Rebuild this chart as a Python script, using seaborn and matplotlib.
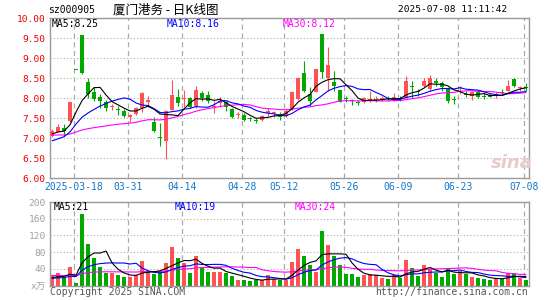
import numpy as np
import pandas as pd
import matplotlib
matplotlib.use("Agg")
import matplotlib.pyplot as plt
import seaborn as sns

# daily k-line data, 2025-03-12 .. 2025-07-08 (80 trading days)
open_ = [7.06, 7.16, 7.25, 7.42, 8.70, 9.57, 8.41, 8.14, 8.02, 7.91,
         7.77, 7.72, 7.68, 7.52, 7.60, 7.75, 7.89, 7.39, 7.02, 6.92,
         7.70, 8.03, 7.97, 8.00, 7.81, 8.12, 8.08, 7.77, 7.88, 7.91,
         7.72, 7.57, 7.58, 7.50, 7.44, 7.45, 7.63, 7.62, 7.60, 7.56,
         7.72, 7.97, 8.62, 8.10, 8.14, 9.59, 8.50, 8.41, 8.21, 7.99,
         7.93, 7.91, 7.89, 7.95, 7.94, 7.97, 8.00, 8.00, 8.00, 8.00,
         8.31, 8.17, 8.31, 8.22, 8.43, 8.38, 8.22, 7.97, 8.24, 8.10,
         8.06, 8.14, 8.06, 8.08, 8.07, 8.15, 8.18, 8.47, 8.24, 8.28]
high = [7.22, 7.35, 7.35, 7.91, 8.70, 9.57, 8.50, 8.27, 8.10, 7.95,
        7.85, 7.81, 7.72, 7.60, 7.78, 8.14, 8.06, 7.53, 7.37, 7.70,
        8.45, 8.22, 8.20, 8.02, 8.31, 8.18, 8.17, 7.93, 8.02, 7.93,
        7.75, 7.66, 7.62, 7.53, 7.49, 7.58, 7.75, 7.68, 7.64, 7.72,
        8.17, 8.53, 8.93, 8.28, 8.72, 9.59, 9.28, 8.67, 8.21, 8.06,
        7.97, 7.95, 8.02, 8.18, 8.06, 8.06, 8.06, 8.12, 8.06, 8.56,
        8.43, 8.23, 8.50, 8.58, 8.50, 8.42, 8.27, 8.06, 8.31, 8.17,
        8.17, 8.18, 8.14, 8.12, 8.14, 8.22, 8.45, 8.50, 8.31, 8.38]
low = [7.02, 7.14, 7.06, 7.40, 8.70, 8.60, 8.00, 7.93, 7.75, 7.67,
       7.70, 7.57, 7.52, 7.39, 7.58, 7.64, 7.77, 7.14, 6.81, 6.47,
       7.70, 7.81, 7.78, 7.75, 7.75, 7.93, 7.87, 7.62, 7.78, 7.68,
       7.50, 7.50, 7.42, 7.42, 7.37, 7.43, 7.56, 7.53, 7.46, 7.52,
       7.70, 7.95, 8.14, 7.81, 8.14, 8.50, 8.18, 8.18, 7.91, 7.89,
       7.83, 7.83, 7.87, 7.89, 7.89, 7.92, 7.92, 7.93, 7.92, 8.00,
       8.00, 8.06, 8.27, 8.18, 8.31, 8.18, 7.87, 7.85, 8.10, 8.02,
       7.95, 8.00, 7.97, 8.02, 8.00, 8.07, 8.17, 8.28, 8.17, 8.17]
close = [7.18, 7.28, 7.18, 7.91, 8.70, 8.62, 8.10, 7.97, 7.93, 7.75,
         7.79, 7.70, 7.56, 7.58, 7.75, 8.12, 7.96, 7.18, 6.99, 7.68,
         8.08, 7.87, 8.00, 7.78, 8.20, 8.00, 7.92, 7.80, 7.92, 7.78,
         7.52, 7.60, 7.46, 7.47, 7.42, 7.56, 7.67, 7.64, 7.52, 7.68,
         8.14, 8.50, 8.18, 7.93, 8.72, 8.64, 8.82, 8.31, 7.91, 7.97,
         7.92, 7.88, 7.99, 7.97, 7.97, 7.99, 7.97, 8.02, 7.97, 8.43,
         8.27, 8.14, 8.43, 8.50, 8.38, 8.27, 7.93, 7.94, 8.28, 8.07,
         8.14, 8.03, 8.03, 8.03, 8.10, 8.13, 8.31, 8.31, 8.28, 8.25]
# volume, 万手
volume = [24, 29, 20, 45, 7, 172, 100, 65, 45, 30,
          30, 24, 21, 21, 25, 58, 34, 27, 32, 53,
          92, 67, 55, 30, 71, 42, 32, 32, 32, 30,
          22, 13, 13, 11, 14, 13, 24, 15, 13, 13,
          57, 87, 71, 48, 32, 131, 97, 71, 48, 27,
          27, 21, 24, 28, 24, 19, 15, 24, 19, 62,
          42, 22, 50, 40, 30, 21, 42, 27, 35, 27,
          20, 18, 15, 14, 18, 16, 29, 30, 18, 12]
# closes / volumes of the 29 days before the window (only feed the moving averages)
prior_close = [7.20, 7.15, 7.22, 7.18, 7.10, 7.12, 7.18, 7.25, 7.16, 7.10,
               7.08, 7.15, 7.20, 7.12, 7.05, 7.10, 7.18, 7.15, 7.08, 7.10,
               6.78, 6.65, 6.70, 6.72, 6.95, 7.02, 7.08, 7.10, 7.12]
prior_vol = [30, 26, 28, 35, 24, 22, 30, 27, 25, 32,
             28, 24, 26, 30, 29, 25, 27, 31, 26, 25,
             16, 14, 13, 15, 17, 18, 17, 19, 17]

date_idx = [4, 13, 22, 32, 39, 49, 58, 68, 79]
date_lbl = ["2025-03-18", "03-31", "04-14", "04-28", "05-12", "05-26", "06-09", "06-23", "07-08"]

RED = "#ff5252"
GREEN = "#00a800"
GRID = "#aaaaaa"
FRAME = "#999999"

n = len(close)
x = np.arange(n)
df = pd.DataFrame({"x": x, "open": open_, "high": high, "low": low, "close": close, "vol": volume})
df["dir"] = np.where(df.close > df.open, "up", "down")
cols = np.where(df.close > df.open, RED, GREEN)

full_c = pd.Series(prior_close + close)
full_v = pd.Series(prior_vol + volume)
k = len(prior_close)
for m in (5, 10, 30):
    df[f"ma{m}"] = full_c.rolling(m).mean().values[k:]
    df[f"vma{m}"] = full_v.rolling(m).mean().values[k:]

sns.set_style("white")
plt.rcParams["font.family"] = ["DejaVu Sans Mono", "Noto Sans CJK SC"]

W, H = 545, 300
fig = plt.figure(figsize=(W / 100, H / 100), dpi=100)


def box(l, t, r, b):
    return [l / W, 1 - b / H, (r - l) / W, (b - t) / H]


def ptext(px, py, s, **kw):
    fig.text(px / W, 1 - py / H, s, va="center", **kw)


ax = fig.add_axes(box(50, 18, 529, 178))
axv = fig.add_axes(box(50, 202, 529, 285.5))
xlim = (-0.35, 79.5)
vlines_x = [i - 0.33 for i in date_idx]

# price panel
for yv in np.arange(6.5, 10.0, 0.5):
    ax.axhline(yv, color=GRID, lw=0.8, ls=(0, (1, 2)), zorder=0)
for xv in vlines_x:
    ax.axvline(xv, color=GRID, lw=0.9, ls=(0, (4, 3)), zorder=0)
ax.vlines(x, df.low, df.high, colors=cols, lw=0.8, zorder=2)
body = np.maximum((df.close - df.open).abs(), 0.025)
ax.bar(x, body, bottom=np.minimum(df.open, df.close), width=0.8, color=cols, linewidth=0, zorder=3)
sns.lineplot(x=x, y=df.ma30, color="#ff00ff", lw=0.8, ax=ax, zorder=4)
sns.lineplot(x=x, y=df.ma10, color="#0000ff", lw=0.8, ax=ax, zorder=4)
sns.lineplot(x=x, y=df.ma5, color="black", lw=0.8, ax=ax, zorder=4)
ax.set_xlim(xlim)
ax.set_ylim(6, 10)
ax.set_yticks(np.arange(6, 10.01, 0.5))
ax.set_yticklabels([f"{v:.2f}" for v in np.arange(6, 10.01, 0.5)], color="#ee0000", fontsize=6.8)
ax.set_xticks(vlines_x)
ax.set_xticklabels(date_lbl, color="#1177cc", fontsize=7)
ax.tick_params(length=0, pad=3)
ax.set_xlabel("")
ax.set_ylabel("")

# volume panel
for yv in (40, 80, 120, 160):
    axv.axhline(yv, color=GRID, lw=0.8, ls=(0, (1, 2)), zorder=0)
for xv in vlines_x:
    axv.axvline(xv, color=GRID, lw=0.9, ls=(0, (4, 3)), zorder=0)
sns.barplot(data=df, x="x", y="vol", hue="dir", palette={"up": RED, "down": GREEN},
            native_scale=True, width=0.8, dodge=False, errorbar=None, saturation=1,
            legend=False, linewidth=0, ax=axv, zorder=2)
sns.lineplot(x=x, y=df.vma30, color="#ff00ff", lw=0.8, ax=axv, zorder=4)
sns.lineplot(x=x, y=df.vma10, color="#0000ff", lw=0.8, ax=axv, zorder=4)
sns.lineplot(x=x, y=df.vma5, color="black", lw=0.8, ax=axv, zorder=4)
axv.set_xlim(xlim)
axv.set_ylim(0, 200)
axv.set_yticks([0, 40, 80, 120, 160, 200])
axv.set_yticklabels(["x万", "40", "80", "120", "160", "200"], color="#a0a0a0", fontsize=6.8)
axv.set_xticks([])
axv.tick_params(length=0, pad=3)
axv.set_xlabel("")
axv.set_ylabel("")

for a in (ax, axv):
    for s in a.spines.values():
        s.set_color(FRAME)
        s.set_linewidth(1.0)

# texts
ptext(48, 10, "sz000905", fontsize=7, color="black")
ptext(113, 10, "厦门港务 - 日K线图", fontsize=9, color="black", family=["Noto Sans CJK SC"])
ptext(507, 10, "2025-07-08 11:11:42", fontsize=6.8, color="black", ha="right")
ptext(52, 24, "MA5:8.25", fontsize=7, color="black")
ptext(167, 24, "MA10:8.16", fontsize=7, color="#0000ff")
ptext(283, 24, "MA30:8.12", fontsize=7, color="#ff00ff")
ptext(54, 207, "MA5:21", fontsize=7, color="black")
ptext(175, 207, "MA10:19", fontsize=7, color="#0000ff")
ptext(295, 207, "MA30:24", fontsize=7, color="#ff00ff")
ptext(50, 292, "Copyright 2025 SINA.COM", fontsize=7, color="#555555")
ptext(528, 292, "http://finance.sina.com.cn", fontsize=7, color="#555555", ha="right")
ptext(512, 163, "sina", fontsize=13, color="#e8cccc", ha="center", style="italic",
      weight="bold", family=["DejaVu Sans"])

fig.savefig("out.png", dpi=100)
